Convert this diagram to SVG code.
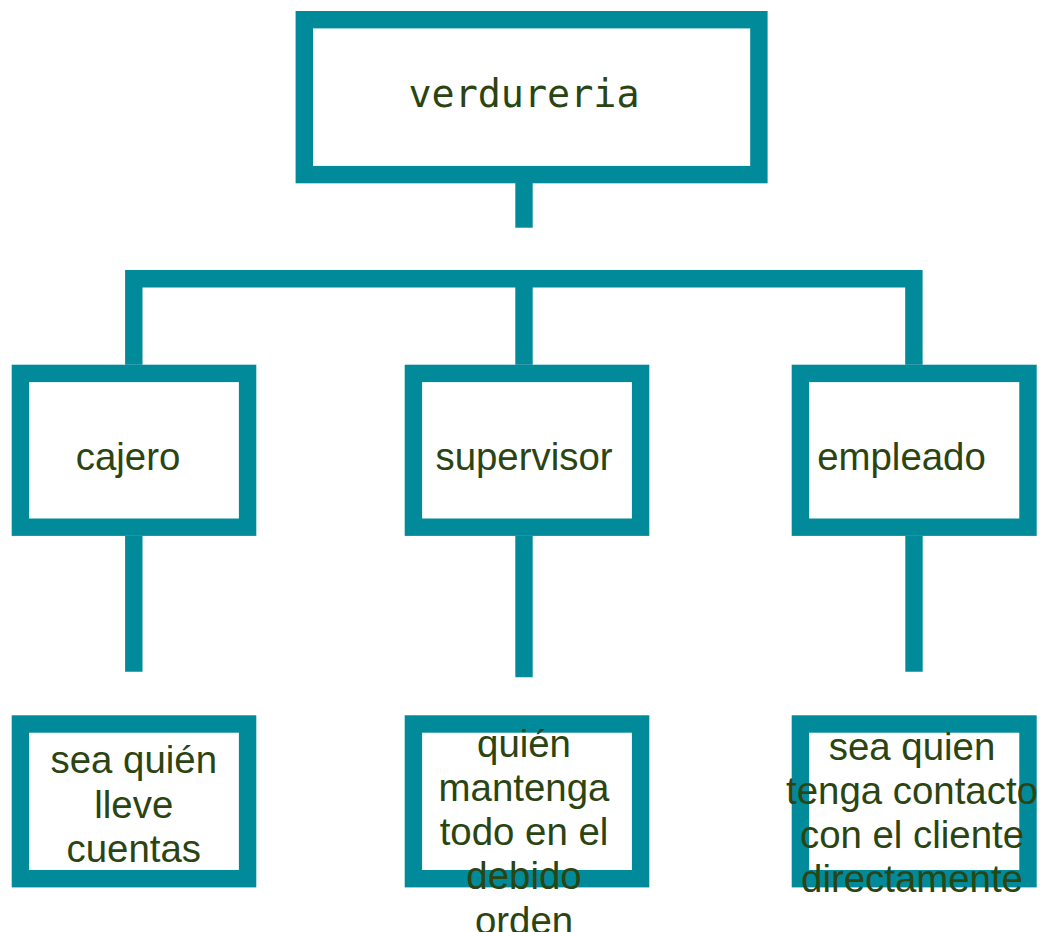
<svg xmlns="http://www.w3.org/2000/svg" width="1045" height="932" viewBox="0 0 1045 932">
<style>
.box{fill:#ffffff;stroke:#008a9a;stroke-width:17.4;stroke-linejoin:miter}
.con{fill:none;stroke:#008a9a;stroke-width:17.4;stroke-linejoin:miter;stroke-linecap:butt}
.t{font-family:"Liberation Sans",Arial,sans-serif;font-size:38.4px;fill:#2a4412;text-anchor:middle}
.m{font-family:"DejaVu Sans Mono",monospace;font-size:38.4px;fill:#2a4412;text-anchor:middle}
</style>
<rect width="1045" height="932" fill="#ffffff"/>
<g id="connectors">
<path class="con" d="M524 183 V227.7"/>
<path class="con" d="M133.8 364.7 V278.7 H913.9 V364.7"/>
<path class="con" d="M524 278.7 V364.7"/>
<path class="con" d="M133.8 536 V671.7"/>
<path class="con" d="M524 536 V677.3"/>
<path class="con" d="M914 536 V671.7"/>
</g>
<g id="verdureria">
<rect class="box" x="304.3" y="19.7" width="454.6" height="154.9"/>
<text class="m" x="524" y="107.3">verdureria</text>
</g>
<g id="cajero">
<rect class="box" x="20.4" y="373.4" width="227.2" height="153.8"/>
<text class="t" x="128" y="470">cajero</text>
</g>
<g id="supervisor">
<rect class="box" x="413.4" y="373.4" width="227.2" height="153.8"/>
<text class="t" x="524" y="470">supervisor</text>
</g>
<g id="empleado">
<rect class="box" x="800.4" y="373.4" width="227.6" height="153.8"/>
<text class="t" x="901.5" y="470">empleado</text>
</g>
<g id="cajero-desc">
<rect class="box" x="20.4" y="724" width="227.2" height="154.7"/>
<text class="t" x="133.8" y="773.3">sea quién</text>
<text class="t" x="133.8" y="817.5">lleve</text>
<text class="t" x="133.8" y="861.7">cuentas</text>
</g>
<g id="supervisor-desc">
<rect class="box" x="413.4" y="724" width="227.2" height="154.7"/>
<text class="t" x="524" y="757">quién</text>
<text class="t" x="524" y="801">mantenga</text>
<text class="t" x="524" y="845.2">todo en el</text>
<text class="t" x="524" y="889.4">debido</text>
<text class="t" x="524" y="933.6">orden</text>
</g>
<g id="empleado-desc">
<rect class="box" x="800.4" y="724" width="227.6" height="154.7"/>
<text class="t" x="912" y="760">sea quien</text>
<text class="t" x="912" y="804">tenga contacto</text>
<text class="t" x="912" y="848.2">con el cliente</text>
<text class="t" x="912" y="892.4">directamente</text>
</g>
</svg>
